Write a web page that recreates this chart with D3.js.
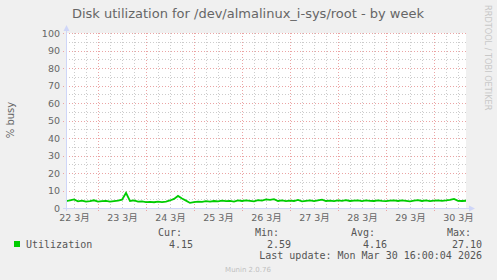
<!DOCTYPE html>
<html>
<head>
<meta charset="utf-8">
<script src="https://cdn.jsdelivr.net/npm/d3@7"></script>
<style>
  body { margin: 0; background: #f0f0f0; }
  svg { display: block; }
</style>
</head>
<body>
<div id="chart"></div>
<script>
// munin "week" graph: 200 hours ending Mon Mar 30 16:00 (2h samples)
var startTime = Date.UTC(2026, 2, 22, 8, 0, 0);
var endTime = Date.UTC(2026, 2, 30, 16, 0, 0);
var stepHours = 2;
var utilization = [
  3.9, 4.3, 4.9, 3.8, 4.2, 3.6, 3.9, 4.4, 3.7, 3.9,
  4.1, 3.6, 3.9, 4.2, 4.8, 8.6, 4.0, 4.3, 3.6, 3.8,
  3.4, 3.5, 3.3, 3.6, 3.4, 3.7, 4.3, 5.2, 6.9, 5.4,
  4.2, 2.9, 3.3, 3.6, 3.5, 3.9, 3.7, 4.0, 3.8, 4.2,
  3.9, 4.1, 3.7, 4.3, 4.0, 4.4, 4.1, 3.8, 4.5, 4.2,
  4.9, 4.6, 5.1, 4.0, 4.3, 3.9, 4.2, 4.0, 4.6, 3.8,
  4.1, 4.3, 3.9, 4.4, 4.8, 4.0, 4.2, 3.9, 4.3, 4.1,
  4.5, 4.0, 4.2, 4.4, 3.9, 4.3, 4.1, 4.0, 4.4, 4.1,
  3.9, 4.2, 4.3, 4.0, 4.4, 4.1, 3.8, 4.2, 4.5, 4.0,
  4.3, 3.9, 4.2, 4.4, 4.1, 4.3, 4.6, 5.2, 4.1, 4.0,
  4.15
];
var dayLabels = ["22 3月", "23 3月", "24 3月", "25 3月", "26 3月", "27 3月", "28 3月", "29 3月", "30 3月"];
var yTicks = [0, 10, 20, 30, 40, 50, 60, 70, 80, 90, 100];
var legendHeads = ["Cur:", "Min:", "Avg:", "Max:"];
var legendVals = ["4.15", "2.59", "4.16", "27.10"];

var W = 497, H = 280;
var plot = {left: 66, right: 466, top: 33, bottom: 208};

var svg = d3.select("#chart").append("svg")
  .attr("width", W).attr("height", H);
svg.append("rect").attr("width", W).attr("height", H).attr("fill", "#f0f0f0");

var x = d3.scaleUtc().domain([startTime, endTime]).range([plot.left, plot.right]);
var y = d3.scaleLinear().domain([0, 100]).range([plot.bottom, plot.top]);

svg.append("rect")
  .attr("x", plot.left).attr("y", plot.top)
  .attr("width", plot.right - plot.left).attr("height", plot.bottom - plot.top)
  .attr("fill", "#ffffff");

// grid
var grid = svg.append("g").attr("shape-rendering", "crispEdges");
var minorX = d3.utcHour.every(6).range(new Date(startTime), new Date(endTime));
var majorX = d3.utcDay.range(new Date(startTime), new Date(endTime));
grid.selectAll(".vmin").data(minorX).enter().append("line")
  .attr("x1", function(d){ return Math.round(x(d)) + 0.5; })
  .attr("x2", function(d){ return Math.round(x(d)) + 0.5; })
  .attr("y1", plot.top).attr("y2", plot.bottom)
  .attr("stroke", "#cccccc").attr("stroke-dasharray", "1,2");
var minorY = d3.range(5, 100, 10);
grid.selectAll(".hmin").data(minorY).enter().append("line")
  .attr("x1", plot.left).attr("x2", plot.right)
  .attr("y1", function(d){ return Math.round(y(d)) + 0.5; })
  .attr("y2", function(d){ return Math.round(y(d)) + 0.5; })
  .attr("stroke", "#cccccc").attr("stroke-dasharray", "1,2");
grid.selectAll(".vmaj").data(majorX).enter().append("line")
  .attr("x1", function(d){ return Math.round(x(d)) + 0.5; })
  .attr("x2", function(d){ return Math.round(x(d)) + 0.5; })
  .attr("y1", plot.top).attr("y2", plot.bottom + 3)
  .attr("stroke", "#eba4a4").attr("stroke-dasharray", "1,2");
grid.selectAll(".hmaj").data(yTicks.slice(1)).enter().append("line")
  .attr("x1", plot.left - 3).attr("x2", plot.right)
  .attr("y1", function(d){ return Math.round(y(d)) + 0.5; })
  .attr("y2", function(d){ return Math.round(y(d)) + 0.5; })
  .attr("stroke", "#eba4a4").attr("stroke-dasharray", "1,2");

// axes (labels)
var yAxis = d3.axisLeft(y).tickValues(yTicks).tickSize(0).tickPadding(6);
var gy = svg.append("g").attr("transform", "translate(" + plot.left + ",0)").call(yAxis);
gy.select(".domain").remove();
gy.selectAll("text").attr("font-family", "DejaVu Sans").attr("font-size", "9.5px").attr("fill", "#666666");

var noons = majorX.map(function(d){ return new Date(+d - 12 * 3600e3); }).concat([d3.utcHour.offset(majorX[majorX.length - 1], 12)]);
var xAxis = d3.axisBottom(x).tickValues(noons).tickSize(0).tickPadding(6)
  .tickFormat(function(d, i){ return dayLabels[i]; });
var gx = svg.append("g").attr("transform", "translate(0," + plot.bottom + ")").call(xAxis);
gx.select(".domain").remove();
gx.selectAll("text").attr("font-family", "DejaVu Sans, Noto Sans CJK JP").attr("font-size", "9.5px").attr("fill", "#666666");

// data line
var line = d3.line()
  .x(function(d, i){ return x(startTime + i * stepHours * 3600e3); })
  .y(function(d){ return y(d); });
svg.append("path").datum(utilization)
  .attr("d", line)
  .attr("fill", "none").attr("stroke", "#00cc00").attr("stroke-width", 1.8);

// axis lines with arrows
var axisColor = "#cfd6f8";
svg.append("line").attr("x1", plot.left + 0.5).attr("x2", plot.left + 0.5)
  .attr("y1", plot.top - 3).attr("y2", plot.bottom + 3).attr("stroke", axisColor);
svg.append("line").attr("x1", plot.left - 3).attr("x2", plot.right + 4)
  .attr("y1", plot.bottom + 0.5).attr("y2", plot.bottom + 0.5).attr("stroke", axisColor);
svg.append("path").attr("d", "M" + (plot.left - 2.5) + "," + (plot.top - 2) + "L" + (plot.left + 3.5) + "," + (plot.top - 2) + "L" + (plot.left + 0.5) + "," + (plot.top - 8) + "Z").attr("fill", axisColor);
svg.append("path").attr("d", "M" + (plot.right + 3) + "," + (plot.bottom - 2.5) + "L" + (plot.right + 3) + "," + (plot.bottom + 3.5) + "L" + (plot.right + 9) + "," + (plot.bottom + 0.5) + "Z").attr("fill", axisColor);

// title and side texts
svg.append("text").attr("x", 248).attr("y", 18).attr("text-anchor", "middle")
  .attr("font-family", "DejaVu Sans").attr("font-size", "13px").attr("fill", "#666666")
  .text("Disk utilization for /dev/almalinux_i-sys/root - by week");
svg.append("text").attr("transform", "translate(14,120) rotate(-90)").attr("text-anchor", "middle")
  .attr("font-family", "DejaVu Sans").attr("font-size", "10px").attr("fill", "#666666")
  .text("% busy");
svg.append("text").attr("transform", "translate(485,5) rotate(90)").attr("text-anchor", "start")
  .attr("font-family", "DejaVu Sans").attr("font-size", "8.2px").attr("fill", "#c8c8c8")
  .text("RRDTOOL / TOBI OETIKER");

// legend
var mono = "DejaVu Sans Mono";
var headX = [158, 255, 351, 447];
var valEnd = [193, 291, 387, 482];
svg.selectAll(".lh").data(legendHeads).enter().append("text")
  .attr("x", function(d, i){ return headX[i]; }).attr("y", 236)
  .attr("font-family", mono).attr("font-size", "10px").attr("fill", "#555555")
  .text(function(d){ return d; });
svg.selectAll(".lv").data(legendVals).enter().append("text")
  .attr("x", function(d, i){ return valEnd[i]; }).attr("y", 248).attr("text-anchor", "end")
  .attr("font-family", mono).attr("font-size", "10px").attr("fill", "#555555")
  .text(function(d){ return d; });
svg.append("rect").attr("x", 14).attr("y", 241).attr("width", 6).attr("height", 6).attr("fill", "#00cc00");
svg.append("text").attr("x", 26).attr("y", 248)
  .attr("font-family", mono).attr("font-size", "10px").attr("fill", "#555555")
  .text("Utilization");
svg.append("text").attr("x", 482).attr("y", 259).attr("text-anchor", "end")
  .attr("font-family", mono).attr("font-size", "10px").attr("fill", "#555555")
  .text("Last update: Mon Mar 30 16:00:04 2026");
svg.append("text").attr("x", 248).attr("y", 272).attr("text-anchor", "middle")
  .attr("font-family", "DejaVu Sans").attr("font-size", "7px").attr("fill", "#c0c0c0")
  .text("Munin 2.0.76");
</script>
</body>
</html>
